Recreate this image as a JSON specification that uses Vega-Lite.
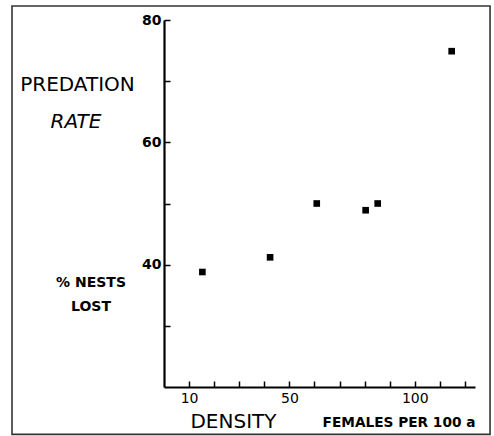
{
  "$schema": "https://vega.github.io/schema/vega-lite/v6.json",
  "autosize": "none",
  "padding": {"left": 164, "top": 20, "right": 19, "bottom": 49},
  "width": 311,
  "height": 367,
  "config": {
    "view": {"stroke": null},
    "font": "DejaVu Sans",
    "axis": {"labelOverlap": false, "labelFlush": false, "grid": false}
  },
  "layer": [
    {
      "data": {
        "values": [
          {"density": 15.3, "rate": 38.8},
          {"density": 42.3, "rate": 41.2},
          {"density": 60.9, "rate": 50.0},
          {"density": 80.4, "rate": 48.9},
          {"density": 85.2, "rate": 50.0},
          {"density": 114.7, "rate": 74.9}
        ]
      },
      "mark": {"type": "square", "size": 44, "filled": true, "color": "black", "opacity": 1},
      "encoding": {
        "x": {
          "field": "density", "type": "quantitative",
          "scale": {"domain": [0, 124], "nice": false, "zero": false},
          "axis": {
            "title": null, "grid": false,
            "values": [10, 20, 30, 40, 50, 60, 70, 80, 90, 100, 110, 120],
            "tickCount": 30,
            "labelExpr": "(datum.value == 10 || datum.value == 50 || datum.value == 100) ? datum.label : ''",
            "tickSize": -6, "tickWidth": 1.5, "tickColor": "black",
            "domainWidth": 2.2, "domainColor": "black",
            "labelFont": "DejaVu Sans", "labelFontSize": 14, "labelColor": "black",
            "labelPadding": 10, "labelFlush": false, "labelOverlap": false
          }
        },
        "y": {
          "field": "rate", "type": "quantitative",
          "scale": {"domain": [20, 80], "nice": false, "zero": false},
          "axis": {
            "title": null, "grid": false,
            "values": [30, 40, 50, 60, 70, 80],
            "tickCount": 30,
            "labelExpr": "(datum.value == 40 || datum.value == 60 || datum.value == 80) ? datum.label : ''",
            "tickSize": -6, "tickWidth": 1.5, "tickColor": "black",
            "domainWidth": 2.2, "domainColor": "black",
            "labelFont": "DejaVu Sans", "labelFontSize": 14, "labelFontWeight": "bold", "labelColor": "black",
            "labelPadding": 9, "labelFlush": false, "labelOverlap": false
          }
        }
      }
    },
    {
      "data": {"values": [{}]},
      "mark": {"type": "rect", "fill": "transparent", "stroke": "#333333", "strokeWidth": 1.6},
      "encoding": {
        "x": {"datum": -60.6, "type": "quantitative"},
        "x2": {"datum": 130.0},
        "y": {"datum": 82.3, "type": "quantitative"},
        "y2": {"datum": 12.25}
      }
    },
    {
      "data": {"values": [{}]},
      "mark": {"type": "text", "text": "PREDATION", "fontSize": 20, "align": "center", "baseline": "middle", "color": "black", "font": "DejaVu Sans"},
      "encoding": {
        "x": {"datum": -34.5, "type": "quantitative"},
        "y": {"datum": 69.4, "type": "quantitative"}
      }
    },
    {
      "data": {"values": [{}]},
      "mark": {"type": "text", "text": "RATE", "fontSize": 20, "fontStyle": "italic", "align": "center", "baseline": "middle", "color": "black", "font": "DejaVu Sans"},
      "encoding": {
        "x": {"datum": -35.1, "type": "quantitative"},
        "y": {"datum": 63.3, "type": "quantitative"}
      }
    },
    {
      "data": {"values": [{}]},
      "mark": {"type": "text", "text": "% NESTS", "fontSize": 14, "fontWeight": "bold", "align": "center", "baseline": "middle", "color": "black", "font": "DejaVu Sans"},
      "encoding": {
        "x": {"datum": -29.1, "type": "quantitative"},
        "y": {"datum": 37.0, "type": "quantitative"}
      }
    },
    {
      "data": {"values": [{}]},
      "mark": {"type": "text", "text": "LOST", "fontSize": 14, "fontWeight": "bold", "align": "center", "baseline": "middle", "color": "black", "font": "DejaVu Sans"},
      "encoding": {
        "x": {"datum": -29.1, "type": "quantitative"},
        "y": {"datum": 33.1, "type": "quantitative"}
      }
    },
    {
      "data": {"values": [{}]},
      "mark": {"type": "text", "text": "DENSITY", "fontSize": 20, "align": "center", "baseline": "middle", "color": "black", "font": "DejaVu Sans"},
      "encoding": {
        "x": {"datum": 27.7, "type": "quantitative"},
        "y": {"datum": 14.28, "type": "quantitative"}
      }
    },
    {
      "data": {"values": [{}]},
      "mark": {"type": "text", "text": "FEMALES PER 100 a", "fontSize": 13.7, "fontWeight": "bold", "align": "center", "baseline": "middle", "color": "black", "font": "DejaVu Sans"},
      "encoding": {
        "x": {"datum": 93.7, "type": "quantitative"},
        "y": {"datum": 14.1, "type": "quantitative"}
      }
    }
  ]
}
